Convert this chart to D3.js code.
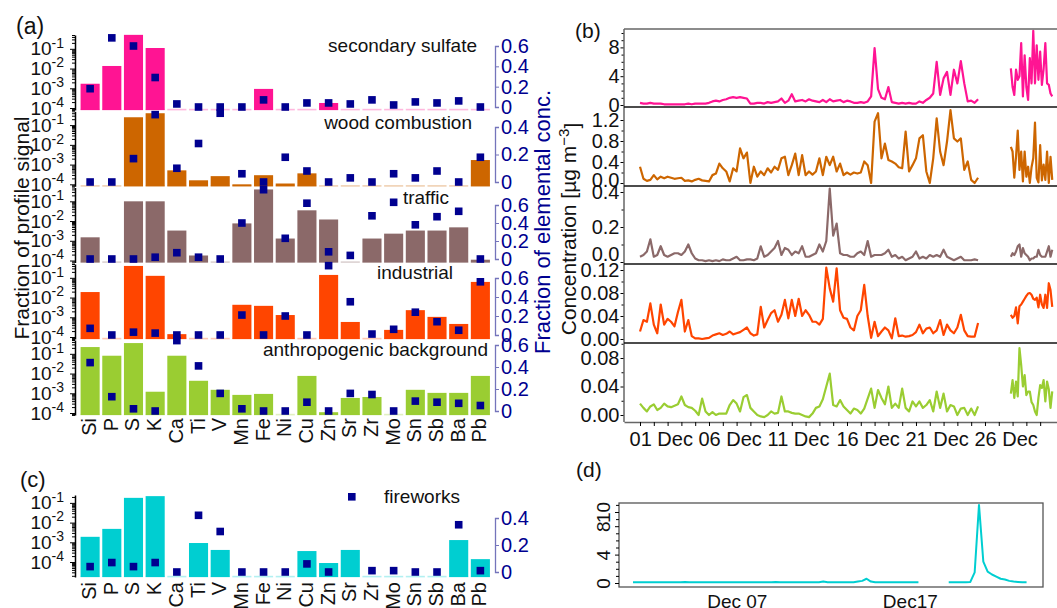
<!DOCTYPE html>
<html>
<head>
<meta charset="utf-8">
<script src="https://cdn.jsdelivr.net/npm/d3@7"></script>
<style>
  body { margin: 0; background: #fff; }
  svg { display: block; }
</style>
</head>
<body>
<div id="chart"></div>
<script>
// ---------------- data ----------------
var elements = ["Si", "P", "S", "K", "Ca", "Ti", "V", "Mn", "Fe", "Ni", "Cu", "Zn", "Sr", "Zr", "Mo", "Sn", "Sb", "Ba", "Pb"];
var factorNames = ["secondary sulfate", "wood combustion", "traffic", "industrial", "anthropogenic background"];
var factorColors = ["#ff1493", "#cd6600", "#8b6969", "#ff4500", "#9acd32"];
var fireworksColor = "#00ced1";

// bars: fraction of profile signal (log axis)
var sulfateProfile = [1.7e-3, 0.0135, 0.51, 0.11, 0, 0, 0, 0, 9.3e-4, 0, 0, 1.8e-4, 0, 0, 0, 0, 0, 0, 0];
var woodProfile = [0, 0, 0.25, 0.4, 5.1e-4, 1.6e-4, 2.6e-4, 1.0e-4, 2.9e-4, 1.1e-4, 3.6e-4, 0, 0, 0, 0, 0, 0, 0, 1.7e-3];
var trafficProfile = [1.5e-3, 0, 0.1, 0.1, 3.3e-3, 1.8e-4, 0, 7.6e-3, 0.4, 1.3e-3, 0.035, 0.012, 0, 1.3e-3, 2.3e-3, 3.3e-3, 3.3e-3, 4.8e-3, 1.1e-4];
var industrialProfile = [0.019, 0, 0.4, 0.126, 1.4e-4, 0, 0, 4.3e-3, 3.8e-3, 1.3e-3, 0, 0.14, 5.8e-4, 0, 2.3e-4, 2.3e-3, 1.05e-3, 4.6e-4, 0.062];
var backgroundProfile = [0.22, 0.08, 0.35, 1.2e-3, 0.08, 4.3e-3, 1.5e-3, 8.3e-4, 9.3e-4, 0, 7.6e-3, 1.1e-4, 5.8e-4, 6.5e-4, 0, 1.5e-3, 1.05e-3, 1.05e-3, 7.6e-3];
var fireworksProfile = [1.9e-3, 4.8e-3, 0.18, 0.22, 0, 9.2e-4, 4.1e-4, 0, 0, 0, 3.6e-4, 8.9e-5, 4.1e-4, 0, 0, 0, 0, 1.3e-3, 1.4e-4];

// squares: fraction of elemental concentration
var sulfateConc = [0.18, 0.68, 0.6, 0.29, 0.03, 0, 0, 0, 0.07, 0, 0.04, 0.04, 0.03, 0.07, 0.02, 0.05, 0.04, 0.06, 0];
var woodConc = [0, 0, 0.17, 0.49, 0.1, 0.28, 0.5, 0.06, 0, 0.18, 0.08, 0, 0.03, 0, 0.06, 0.03, 0.08, 0, 0.18];
var trafficConc = [0, 0, 0, 0.02, 0.07, 0.02, 0, 0.4, 0.77, 0.23, 0.62, 0.08, 0.04, 0.48, 0.63, 0.38, 0.47, 0.53, 0];
var industrialConc = [0.07, 0, 0.03, 0.02, 0, 0, 0, 0.21, 0, 0.2, 0, 0.73, 0.35, 0.01, 0.06, 0.24, 0.14, 0.05, 0.56];
var backgroundConc = [0.44, 0.13, 0.02, 0, 0.64, 0.41, 0.16, 0.02, 0, 0, 0.08, 0, 0.16, 0.15, 0, 0.09, 0.08, 0.07, 0.05];
var fireworksConc = [0.04, 0.07, 0.04, 0.07, 0, 0.42, 0.3, 0, 0, 0, 0.06, 0, null, 0.01, 0.01, 0, 0, 0.35, 0.01];

// time series, first block every 6 h from 01 Dec, second block every 3 h from 27 Dec 21:00
var sulfateSeg1 = [0.3, 0.2, 0.2, 0.3, 0.2, 0.2, 0.2, 0.1, 0.1, 0.1, 0.1, 0.1, 0.1, 0.1, 0.2, 0.1, 0.2, 0.2, 0.2, 0.2,
  0.3, 0.5, 0.6, 0.5, 0.7, 0.8, 1.0, 1.1, 1.0, 1.1, 1.0, 0.9, 0.2, 0.2, 0.3, 0.3, 0.2, 0.4, 0.3, 0.4,
  0.5, 0.9, 0.3, 0.6, 1.5, 0.5, 0.6, 0.7, 0.5, 0.8, 0.6, 0.5, 0.4, 0.7, 0.4, 0.8, 0.5, 0.6, 0.7, 0.4,
  0.6, 0.5, 0.3, 0.3, 0.4, 0.3, 0.5, 1.2, 7.9, 2.2, 1.0, 0.8, 2.5, 0.4, 0.3, 0.2, 0.3, 0.2, 0.3, 0.2,
  0.2, 0.5, 0.3, 0.7, 1.0, 1.6, 6.0, 1.4, 3.7, 4.6, 1.4, 4.9, 3.0, 6.1, 3.0, 0.5, 0.6, 0.3, 0.8];
var sulfateSeg2 = [5.1, 2.5, 1.4, 4.9, 3.5, 4.0, 8.6, 1.2, 6.9, 2.5, 0.7, 6.5, 3.0, 10.3, 3.0, 8.3, 3.5, 7.4, 2.8, 5.0, 8.6, 3.0, 2.8, 1.6, 1.2];

var woodSeg1 = [0.31, 0.08, 0.04, 0.06, 0.15, 0.07, 0.12, 0.09, 0.12, 0.1,
  0.08, 0.09, 0.1, 0.04, 0.05, 0.03, 0.06, 0.08, 0.05, 0.04,
  0.03, 0.15, 0.18, 0.37, 0.28, 0.22, 0.03, 0.28, 0.22, 0.66,
  0.47, 0.58, 0.0, 0.31, 0.12, 0.22, 0.15, 0.28, 0.2, 0.31,
  0.25, 0.47, 0.5, 0.15, 0.34, 0.56, 0.15, 0.53, 0.15, 0.22,
  0.16, 0.22, 0.47, 0.15, 0.5, 0.34, 0.5, 0.22, 0.37, 0.15,
  0.2, 0.16, 0.2, 0.18, 0.2, 0.41, 0.34, 0.0, 1.17, 1.33,
  0.47, 0.75, 0.44, 0.41, 0.37, 0.3, 0.28, 0.98, 0.22, 0.34,
  0.47, 0.85, 0.91, 0.22, 0.0, 0.47, 1.23, 0.6, 0.34, 0.79,
  1.39, 0.85, 0.79, 0.85, 0.25, 0.41, 0.06, 0.0, 0.1];
var woodSeg2 = [0.69, 0.6, 0.1, 0.5, 1.0, 0.25, 0.6, 0.03, 0.6, 0.12, 0.31, 0.0, 0.3, 0.47, 1.15, 0.1, 0.01, 0.72, 0.05, 0.35, 0.06, 0.6, 0.0, 0.5, 0.06];

var trafficSeg1 = [0.03, 0.04, 0.06, 0.13, 0.03, 0.04, 0.09, 0.04, 0.03, 0.04,
  0.05, 0.05, 0.04, 0.06, 0.1, 0.05, 0.02, 0.01, 0.01, 0.005,
  0.01, 0.005, 0.01, 0.005, 0.015, 0.01, 0.01, 0.02, 0.03, 0.01,
  0.01, 0.015, 0.015, 0.01, 0.02, 0.09, 0.03, 0.04, 0.06, 0.08,
  0.12, 0.04, 0.08, 0.07, 0.04, 0.06, 0.05, 0.09, 0.03, 0.03,
  0.04, 0.05, 0.1, 0.06, 0.12, 0.42, 0.15, 0.22, 0.05, 0.04,
  0.04, 0.03, 0.03, 0.05, 0.06, 0.04, 0.12, 0.03, 0.04, 0.04,
  0.04, 0.05, 0.07, 0.03, 0.04, 0.02, 0.03, 0.01, 0.02, 0.03,
  0.06, 0.02, 0.03, 0.02, 0.04, 0.03, 0.04, 0.03, 0.07, 0.03,
  0.02, 0.01, 0.02, 0.03, 0.01, 0.01, 0.01, 0.015, 0.01];
var trafficSeg2 = [0.03, 0.05, 0.04, 0.06, 0.09, 0.1, 0.03, 0.08, 0.05, 0.04, 0.03, 0.01, 0.02, 0.02, 0.03, 0.03, 0.07, 0.04, 0.03, 0.03, 0.03, 0.06, 0.09, 0.03, 0.07];

var industrialSeg1 = [0.013, 0.033, 0.03, 0.062, 0.025, 0.01, 0.06, 0.025, 0.035, 0.03,
  0.022, 0.047, 0.068, 0.013, 0.033, 0.005, 0.001, 0.001, 0.0, 0.001,
  0.002, 0.006, 0.008, 0.01, 0.007, 0.009, 0.013, 0.008, 0.01, 0.012,
  0.016, 0.02, 0.01, 0.006, 0.008, 0.056, 0.02, 0.033, 0.045, 0.05,
  0.03, 0.042, 0.068, 0.036, 0.068, 0.04, 0.07, 0.04, 0.05, 0.042,
  0.03, 0.03, 0.025, 0.035, 0.124, 0.088, 0.065, 0.123, 0.05, 0.037,
  0.035, 0.02, 0.015, 0.04, 0.05, 0.094, 0.04, 0.002, 0.03, 0.005,
  0.013, 0.02, 0.015, 0.001, 0.036, 0.005, 0.006, 0.004, 0.005, 0.007,
  0.012, 0.025, 0.01, 0.018, 0.02, 0.01, 0.015, 0.033, 0.007, 0.025,
  0.015, 0.01, 0.02, 0.042, 0.015, 0.005, 0.004, 0.004, 0.028];
var industrialSeg2 = [0.042, 0.037, 0.04, 0.055, 0.027, 0.057, 0.06, 0.065, 0.07, 0.075, 0.079, 0.08, 0.077, 0.07, 0.068, 0.072, 0.055, 0.077, 0.06, 0.054, 0.077, 0.054, 0.097, 0.085, 0.056];

var backgroundSeg1 = [0.016, 0.01, 0.005, 0.012, 0.015, 0.007, 0.01, 0.016, 0.012, 0.011,
  0.013, 0.015, 0.026, 0.014, 0.011, 0.01, 0.006, 0.0, 0.023, 0.005,
  0.0, 0.004, 0.0, 0.002, 0.002, 0.002, 0.014, 0.021, 0.016, 0.005,
  0.025, 0.028, 0.01, 0.005, 0.0, -0.002, -0.003, 0.0, 0.005, 0.002,
  0.003, 0.026, 0.005, 0.005, 0.003, 0.002, 0.002, 0.0, -0.002, -0.003,
  0.002, 0.01, 0.012, 0.022, 0.04, 0.058, 0.014, 0.012, 0.021, 0.012,
  0.007, 0.002, 0.009, 0.007, 0.002, 0.009, 0.023, 0.037, 0.01, 0.035,
  0.024, 0.015, 0.04, 0.01, 0.016, 0.01, 0.037, 0.01, 0.005, 0.019,
  0.012, 0.019, 0.01, 0.014, 0.021, 0.005, 0.033, 0.01, 0.03, 0.005,
  0.014, 0.012, 0.0, 0.009, 0.01, 0.0, 0.009, 0.0, 0.012];
var backgroundSeg2 = [0.03, 0.049, 0.024, 0.047, 0.026, 0.094, 0.07, 0.04, 0.056, 0.028, 0.033, 0.033, 0.018, 0.014, 0.005, 0.0, 0.024, 0.042, 0.038, 0.049, 0.019, 0.047, 0.036, 0.01, 0.033];

// fireworks, every 6 h
var fireworksSeg1 = [0.1, 0.1, 0.1, 0.1, 0.1, 0.1, 0.1, 0.1, 0.1, 0.1,
  0.1, 0.1, 0.15, 0.1, 0.1, 0.1, 0.1, 0.1, 0.1, 0.1,
  0.1, 0.1, 0.1, 0.1, 0.1, 0.1, 0.1, 0.1, 0.1, 0.1,
  0.1, 0.1, 0.1, 0.15, 0.1, 0.1, 0.1, 0.1, 0.1, 0.1,
  0.1, 0.1, 0.1, 0.1, 0.2, 0.1, 0.1, 0.1, 0.1, 0.1,
  0.1, 0.1, 0.2, 0.3, 0.6, 0.2, 0.1, 0.1, 0.1, 0.1,
  0.1, 0.1, 0.1, 0.1, 0.1, 0.1, 0.1];
var fireworksSeg2 = [0.1, 0.1, 0.1, 0.1, 0.1, 0.15, 1.5, 11.0, 3.0, 1.6, 1.2, 0.9, 0.6, 0.5, 0.3, 0.2, 0.15, 0.1, 0.1];

var dateLabels = ["01 Dec", "06 Dec", "11 Dec", "16 Dec", "21 Dec", "26 Dec"];
var fireworksDateLabels = ["Dec 07", "Dec17"];

// ---------------- setup ----------------
var font = "'Liberation Sans', Arial, Helvetica, sans-serif";
var navy = "#000090";
var axisBlue = "#7474bb";

var svg = d3.select("#chart")
  .append("svg")
  .attr("width", 1057)
  .attr("height", 608)
  .style("font-family", font);

var xBand = d3.scaleBand()
  .domain(elements)
  .range([79.5, 491])
  .paddingInner(0.12)
  .paddingOuter(0.05);

// draws bars + squares + both axes for one factor profile
function profileRow(profile, conc, color, yLog, yConc, concTicks) {
  var g = svg.append("g");
  var base = yLog.range()[0];
  var lo = yLog.domain()[0];

  // pale stub under each bar (visible where the value is ~0)
  g.selectAll("rect.stub")
    .data(elements)
    .join("rect")
    .attr("class", "stub")
    .attr("x", d => xBand(d))
    .attr("y", base - 1.2)
    .attr("width", xBand.bandwidth())
    .attr("height", 1.6)
    .attr("fill", color)
    .attr("opacity", 0.3);

  g.selectAll("rect.bar")
    .data(profile)
    .join("rect")
    .attr("class", "bar")
    .attr("x", (d, i) => xBand(elements[i]))
    .attr("y", d => yLog(Math.max(d, lo)))
    .attr("width", xBand.bandwidth())
    .attr("height", d => base - yLog(Math.max(d, lo)))
    .attr("fill", color);

  // log axis on the left
  var decades = [1e-4, 1e-3, 1e-2, 1e-1];
  var minor = [];
  [1e-5, 1e-4, 1e-3, 1e-2, 1e-1].forEach(function(d) {
    for (var k = 2; k < 10; k++) {
      if (d * k > lo && d * k < yLog.domain()[1]) minor.push(d * k);
    }
  });
  var la = g.append("g")
    .attr("transform", "translate(75,0)")
    .call(d3.axisLeft(yLog).tickValues(minor).tickSize(3).tickSizeOuter(0).tickFormat(""));
  la.select(".domain").remove();
  var lb = g.append("g")
    .attr("transform", "translate(75,0)")
    .call(d3.axisLeft(yLog).tickValues(decades).tickSize(5).tickSizeOuter(0).tickPadding(6).tickFormat(""));
  lb.attr("font-family", null).attr("font-size", 19);
  lb.select(".domain").attr("stroke-width", 1.5);
  lb.selectAll(".tick text")
    .attr("fill", "#111")
    .text("10")
    .append("tspan")
    .attr("dy", "-0.55em")
    .attr("font-size", 14)
    .text(d => Math.round(Math.log10(d)));

  // squares
  g.selectAll("rect.mark")
    .data(conc.map((v, i) => ({ el: elements[i], v: v })).filter(d => d.v !== null))
    .join("rect")
    .attr("class", "mark")
    .attr("x", d => xBand(d.el) + xBand.bandwidth() / 2 - 3.8)
    .attr("y", d => yConc(d.v) - 3.8)
    .attr("width", 7.6)
    .attr("height", 7.6)
    .attr("fill", navy);

  // linear axis on the right
  var ra = g.append("g")
    .attr("transform", "translate(495,0)")
    .call(d3.axisRight(yConc).tickValues(concTicks).tickSize(4).tickPadding(2)
      .tickFormat(d => d === 0 ? "0" : d3.format(".1f")(d)));
  ra.attr("font-family", null).attr("font-size", 20);
  ra.select(".domain").attr("stroke", axisBlue).attr("stroke-width", 1.3);
  ra.selectAll(".tick line").attr("stroke", axisBlue);
  ra.selectAll(".tick text").attr("fill", navy);
  return g;
}

// ---------------- panel (a) ----------------
var profiles = [sulfateProfile, woodProfile, trafficProfile, industrialProfile, backgroundProfile];
var concs = [sulfateConc, woodConc, trafficConc, industrialConc, backgroundConc];
var rowBottoms = [110, 186.3, 262.5, 339, 415];
var concMax = [0.6, 0.4, 0.6, 0.6, 0.6];
var concRanges = [[107, 46], [182, 127], [259, 205], [335, 278], [411, 345]];
var titleAt = [[477, 52], [472, 129], [449, 204], [453, 279], [488, 356]];

profiles.forEach(function(p, i) {
  var yLog = d3.scaleLog()
    .domain([Math.pow(10, -4.1), Math.pow(10, -0.3)])
    .range([rowBottoms[i], rowBottoms[i] - 75]);
  var yConc = d3.scaleLinear().domain([0, concMax[i]]).range(concRanges[i]);
  var ticks = concMax[i] === 0.4 ? [0, 0.2, 0.4] : [0, 0.2, 0.4, 0.6];
  var g = profileRow(p, concs[i], factorColors[i], yLog, yConc, ticks);

  g.append("text")
    .attr("x", titleAt[i][0])
    .attr("y", titleAt[i][1])
    .attr("text-anchor", "end")
    .attr("font-size", 19)
    .attr("fill", "#111")
    .text(factorNames[i]);
});

// element labels under (a)
svg.append("g").selectAll("text")
  .data(elements)
  .join("text")
  .attr("transform", d => `translate(${xBand(d) + xBand.bandwidth() / 2}, 418) rotate(-90)`)
  .attr("text-anchor", "end")
  .attr("dy", "0.3em")
  .attr("font-size", 20)
  .attr("fill", "#111")
  .text(d => d);

svg.append("text")
  .attr("transform", "translate(22, 228) rotate(-90)")
  .attr("text-anchor", "middle")
  .attr("dy", "0.35em")
  .attr("font-size", 21)
  .attr("fill", "#111")
  .text("Fraction of profile signal");

svg.append("text")
  .attr("transform", "translate(542, 222) rotate(-90)")
  .attr("text-anchor", "middle")
  .attr("dy", "0.35em")
  .attr("font-size", 22)
  .attr("fill", navy)
  .text("Fraction of elemental conc.");

// ---------------- panel (c) ----------------
var yLogC = d3.scaleLog().domain([Math.pow(10, -4.76), Math.pow(10, -0.6)]).range([577, 495]);
var yConcC = d3.scaleLinear().domain([0, 0.4]).range([572, 518]);
profileRow(fireworksProfile, fireworksConc, fireworksColor, yLogC, yConcC, [0, 0.2, 0.4]);

svg.append("g").selectAll("text")
  .data(elements)
  .join("text")
  .attr("transform", d => `translate(${xBand(d) + xBand.bandwidth() / 2}, 582) rotate(-90)`)
  .attr("text-anchor", "end")
  .attr("dy", "0.3em")
  .attr("font-size", 20)
  .attr("fill", "#111")
  .text(d => d);

// legend
svg.append("rect").attr("x", 348).attr("y", 493).attr("width", 7.6).attr("height", 7.6).attr("fill", navy);
svg.append("text").attr("x", 384).attr("y", 503).attr("font-size", 19).attr("fill", "#111").text("fireworks");

// ---------------- panel (b) ----------------
var t0 = Date.UTC(2014, 11, 1);
function dayToDate(d) { return new Date(t0 + d * 864e5); }
function toPoints(values, startDay, stepDay) {
  return values.map((v, i) => ({ t: dayToDate(startDay + i * stepDay), v: v }));
}

var xTime = d3.scaleUtc()
  .domain([dayToDate(-1.16), dayToDate(30.22)])
  .range([624, 1057]);

var seriesA = [sulfateSeg1, woodSeg1, trafficSeg1, industrialSeg1, backgroundSeg1];
var seriesB = [sulfateSeg2, woodSeg2, trafficSeg2, industrialSeg2, backgroundSeg2];
var tsDomains = [[0, 8], [0, 1.2], [0, 0.4], [0, 0.12], [0, 0.08]];
var tsRanges = [[105, 47.4], [183, 120], [262, 192], [339, 270], [415, 358]];
var tsTicks = [[0, 4, 8], [0, 0.4, 0.8, 1.2], [0, 0.2, 0.4], [0, 0.04, 0.08, 0.12], [0, 0.04, 0.08]];
var tsMinor = [[1, 2, 3, 5, 6, 7, 9, 10], [0.2, 0.6, 1.0], [0.1, 0.3], [0.02, 0.06, 0.1], [0.02, 0.06, 0.1]];
var tsFormats = ["d", ".1f", ".1f", ".2f", ".2f"];
// the lowest label of some rows sits a little higher than its tick
var zeroLift = [0, 3, 8, 0, 0];

seriesA.forEach(function(seg1, i) {
  var y = d3.scaleLinear().domain(tsDomains[i]).range(tsRanges[i]);
  var line = d3.line().x(d => xTime(d.t)).y(d => y(d.v));

  [toPoints(seg1, 0, 0.25), toPoints(seriesB[i], 26.875, 0.125)].forEach(function(pts) {
    svg.append("path")
      .datum(pts)
      .attr("fill", "none")
      .attr("stroke", factorColors[i])
      .attr("stroke-width", 2.2)
      .attr("stroke-linejoin", "round")
      .attr("d", line);
  });

  var mi = svg.append("g")
    .attr("transform", "translate(624,0)")
    .call(d3.axisLeft(y).tickValues(tsMinor[i]).tickSize(2.5).tickFormat(""));
  mi.select(".domain").remove();
  var ax = svg.append("g")
    .attr("transform", "translate(624,0)")
    .call(d3.axisLeft(y).tickValues(tsTicks[i]).tickSize(3.5).tickPadding(1).tickFormat(d3.format(tsFormats[i])));
  ax.attr("font-family", null).attr("font-size", 20);
  ax.select(".domain").remove();
  ax.selectAll(".tick text").attr("fill", "#111")
    .attr("y", d => d === 0 ? -zeroLift[i] : 0);
});

// frame and row separators
svg.append("line").attr("x1", 624).attr("x2", 1057).attr("y1", 29).attr("y2", 29).attr("stroke", "#666").attr("stroke-width", 1.5);
svg.append("line").attr("x1", 624).attr("x2", 624).attr("y1", 29).attr("y2", 422).attr("stroke", "#666").attr("stroke-width", 1.5);
[107, 186, 264, 343].forEach(function(yy) {
  svg.append("line").attr("x1", 624).attr("x2", 1057).attr("y1", yy).attr("y2", yy).attr("stroke", "#111").attr("stroke-width", 1.5);
});

var xa = svg.append("g")
  .attr("transform", "translate(0,422)")
  .call(d3.axisBottom(xTime)
    .tickValues(d3.range(0, 30).map(dayToDate))
    .tickSize(4)
    .tickSizeOuter(0)
    .tickPadding(6)
    .tickFormat(function(d, i) { return i % 5 === 0 ? dateLabels[i / 5] : ""; }));
xa.attr("font-family", null).attr("font-size", 20);
xa.select(".domain").attr("stroke", "#666").attr("stroke-width", 1.5);
xa.selectAll(".tick text").attr("fill", "#111").attr("text-anchor", "start").attr("dx", "-0.55em");

svg.append("text")
  .attr("transform", "translate(569, 229) rotate(-90)")
  .attr("text-anchor", "middle")
  .attr("dy", "0.35em")
  .attr("font-size", 21)
  .attr("fill", "#111")
  .text("Concentration [µg m")
  .call(t => t.append("tspan").attr("dy", "-0.5em").attr("font-size", 15).text("−3"))
  .call(t => t.append("tspan").attr("dy", "0.5em").text("]"));

// ---------------- panel (d) ----------------
var xFw = d3.scaleUtc().domain([dayToDate(-0.81), dayToDate(23.7)]).range([619, 1043]);
var yFw = d3.scaleLinear().domain([0, 10]).range([583, 512]);
var fwLine = d3.line().x(d => xFw(d.t)).y(d => yFw(d.v));

[toPoints(fireworksSeg1, 0, 0.25), toPoints(fireworksSeg2, 18.25, 0.25)].forEach(function(pts) {
  svg.append("path")
    .datum(pts)
    .attr("fill", "none")
    .attr("stroke", fireworksColor)
    .attr("stroke-width", 2)
    .attr("stroke-linejoin", "round")
    .attr("d", fwLine);
});

svg.append("rect")
  .attr("x", 619).attr("y", 503).attr("width", 424).attr("height", 84)
  .attr("fill", "none").attr("stroke", "#555").attr("stroke-width", 1.3);

var fm = svg.append("g")
  .attr("transform", "translate(619,0)")
  .call(d3.axisLeft(yFw).tickValues([1, 2, 3, 5, 6, 7, 9, 11]).tickSize(3).tickFormat(""));
fm.select(".domain").remove();
var fy = svg.append("g")
  .attr("transform", "translate(619,0)")
  .call(d3.axisLeft(yFw).tickValues([0, 4, 8, 10]).tickSize(4).tickFormat(d3.format("d")));
fy.attr("font-family", null).attr("font-size", 19);
fy.select(".domain").remove();
fy.selectAll(".tick text")
  .attr("fill", "#111")
  .attr("transform", "rotate(-90)")
  .attr("x", 0)
  .attr("y", -9)
  .attr("dy", 0)
  .attr("text-anchor", "middle");

var fx = svg.append("g")
  .attr("transform", "translate(0,587)")
  .call(d3.axisBottom(xFw)
    .tickValues([dayToDate(6), dayToDate(16)])
    .tickSize(0)
    .tickPadding(8)
    .tickFormat((d, i) => fireworksDateLabels[i]));
fx.attr("font-family", null).attr("font-size", 19);
fx.select(".domain").remove();
fx.selectAll(".tick text").attr("fill", "#111");

// ---------------- panel letters ----------------
svg.append("text").attr("x", 16).attr("y", 34).attr("font-size", 23).attr("fill", "#111").text("(a)");
svg.append("text").attr("x", 575).attr("y", 38).attr("font-size", 21).attr("fill", "#111").text("(b)");
svg.append("text").attr("x", 20).attr("y", 487).attr("font-size", 22).attr("fill", "#111").text("(c)");
svg.append("text").attr("x", 576).attr("y", 477).attr("font-size", 21).attr("fill", "#111").text("(d)");
</script>
</body>
</html>
